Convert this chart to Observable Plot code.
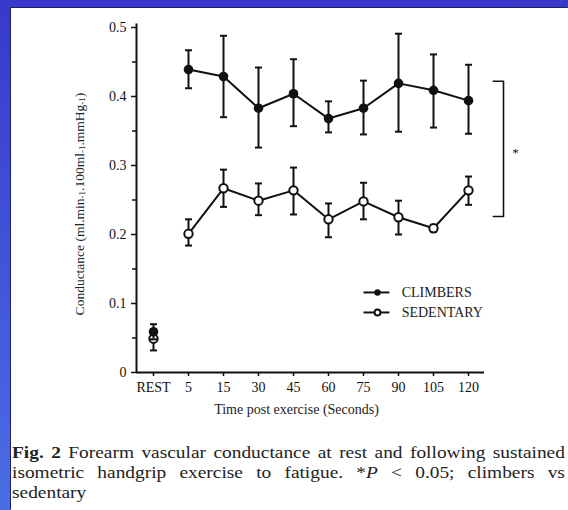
<!DOCTYPE html>
<html><head><meta charset="utf-8">
<script src="https://cdn.jsdelivr.net/npm/d3@7"></script>
<script src="https://cdn.jsdelivr.net/npm/@observablehq/plot@0.6"></script>
<style>
html,body{margin:0;padding:0;width:568px;height:510px;overflow:hidden;background:linear-gradient(#3839cc,#4a6ee2);}
#panel{position:absolute;left:11px;top:8px;right:0;bottom:0;background:#fff;box-shadow:-1px -1px 0 #1c1f6e;}
#chart svg{display:block}
#caption{margin:0 0 0 1px;width:485px;transform:scaleX(1.14);transform-origin:0 0;font-family:"Liberation Serif",serif;font-size:17px;line-height:20px;color:#222;}
#caption .j{text-align:justify;text-align-last:justify;white-space:nowrap;}
</style></head><body>
<div id="panel"><div id="chart"></div>
<div id="caption"><div class="j"><b>Fig. 2</b> Forearm vascular conductance at rest and following sustained</div><div class="j">isometric handgrip exercise to fatigue. *<i>P</i> &lt; 0.05; climbers vs</div><div>sedentary</div></div>
</div>
<script>
const timeLabels = ["REST","5","15","30","45","60","75","90","105","120"];
const climbersMean = [0.059,0.439,0.429,0.383,0.404,0.368,0.383,0.419,0.409,0.394];
const climbersHi   = [0.070,0.467,0.488,0.442,0.454,0.393,0.423,0.491,0.461,0.446];
const climbersLo   = [0.048,0.412,0.370,0.326,0.357,0.348,0.345,0.349,0.355,0.346];
const sedentaryMean = [0.049,0.201,0.267,0.249,0.264,0.222,0.248,0.225,0.209,0.264];
const sedentaryHi   = [0.063,0.222,0.294,0.274,0.297,0.245,0.275,0.249,0.214,0.284];
const sedentaryLo   = [0.032,0.184,0.240,0.228,0.229,0.196,0.222,0.200,0.204,0.243];
const yTicks = [0,0.1,0.2,0.3,0.4,0.5];
const yMinorTicks = [0.05,0.15,0.25,0.35,0.45];
const seriesNames = ["CLIMBERS","SEDENTARY"];

const rows = (mean, hi, lo) => timeLabels.map((t, i) => ({i, label: t, mean: mean[i], hi: hi[i], lo: lo[i]}));
const climbers = rows(climbersMean, climbersHi, climbersLo);
const sedentary = rows(sedentaryMean, sedentaryHi, sedentaryLo);

const capSymbol = {draw(ctx, size) { const w = Math.sqrt(size / Math.PI); ctx.moveTo(-w, 0); ctx.lineTo(w, 0); }};
const ink = "#111";
const xDomain = [-17/35, timeLabels.length - 1 + 16/35];

function series(data, filled) {
  return [
    Plot.line(data.slice(1), {x: "i", y: "mean", stroke: ink, strokeWidth: 2}),
    Plot.ruleX(data, {x: "i", y1: "lo", y2: "hi", stroke: ink, strokeWidth: 2}),
    Plot.dot(data, {x: "i", y: "hi", symbol: capSymbol, r: 3.5, stroke: ink, strokeWidth: 2}),
    Plot.dot(data, {x: "i", y: "lo", symbol: capSymbol, r: 3.5, stroke: ink, strokeWidth: 2}),
    filled
      ? Plot.dot(data, {x: "i", y: "mean", r: 4.8, fill: ink})
      : Plot.dot(data, {x: "i", y: "mean", r: 4.2, fill: "#fff", stroke: ink, strokeWidth: 2})
  ];
}

const legendRows = seriesNames.map((name, k) => ({name, k, y: k === 0 ? 0.116 : 0.087}));

const chart = Plot.plot({
  width: 557, height: 435,
  marginLeft: 125, marginRight: 84, marginTop: 19, marginBottom: 71,
  style: {fontFamily: "Liberation Serif, serif", fontSize: "14px", color: ink, background: "transparent"},
  x: {domain: xDomain},
  y: {domain: [0, 0.5]},
  marks: [
    Plot.ruleY([0], {stroke: ink, strokeWidth: 2}),
    Plot.ruleX([xDomain[0]], {y1: 0, y2: 0.505, stroke: ink, strokeWidth: 2}),
    Plot.axisY(yTicks, {tickSize: 5, tickPadding: 5, strokeWidth: 1.5, tickFormat: d => d === 0 ? "0" : d.toFixed(1), label: null}),
    Plot.axisY(yMinorTicks, {tickSize: 4, strokeWidth: 1.5, tickFormat: () => "", label: null}),
    Plot.axisX(d3.range(timeLabels.length), {tickSize: 4, tickPadding: 6, strokeWidth: 1.5, tickFormat: i => timeLabels[i], label: null}),
    ...series(sedentary, false),
    ...series(climbers, true),
    // legend
    Plot.link(legendRows, {x1: 6.0, x2: 6.74, y1: "y", y2: "y", stroke: ink, strokeWidth: 2}),
    Plot.dot(legendRows, {x: 6.4, y: "y", r: d => d.k === 0 ? 4.5 : 3.8, fill: d => d.k === 0 ? ink : "#fff", stroke: ink, strokeWidth: d => d.k === 0 ? 0 : 2}),
    Plot.text(legendRows, {x: 7.09, y: "y", text: "name", textAnchor: "start", fontSize: 14, fill: "#222"}),
    // significance bracket
    Plot.line([{x: 9.71, y: 0.422}, {x: 10.0, y: 0.422}, {x: 10.0, y: 0.226}, {x: 9.71, y: 0.226}], {x: "x", y: "y", stroke: ink, strokeWidth: 1.6, curve: "linear"}),
    Plot.text(["*"], {x: 10.34, y: 0.318, fontSize: 13, fill: ink}),
    // x title
    Plot.text(["Time post exercise (Seconds)"], {frameAnchor: "bottom", dx: -14, dy: 41, fontSize: 14, fill: "#222"})
  ]
});
document.getElementById("chart").appendChild(chart);

// y-axis title with subscripts
const yt = d3.select(chart).append("text")
  .attr("transform", "translate(68,196) rotate(-90)")
  .attr("text-anchor", "middle")
  .attr("dominant-baseline", "central")
  .attr("fill", "#222")
  .attr("font-family", "Liberation Serif, serif")
  .attr("font-size", 13.5);
const parts = [["Conductance (ml.min", 0], ["-1", 1], [".100ml", 0], ["-1", 1], [".mmHg", 0], ["-1", 1], [")", 0]];
let prevSub = 0;
for (const [txt, sub] of parts) {
  const ts = yt.append("tspan").text(txt);
  if (sub) ts.attr("font-size", 9);
  const dy = (sub - prevSub) * 3;
  if (dy) ts.attr("dy", dy);
  prevSub = sub;
}
</script>
</body></html>
